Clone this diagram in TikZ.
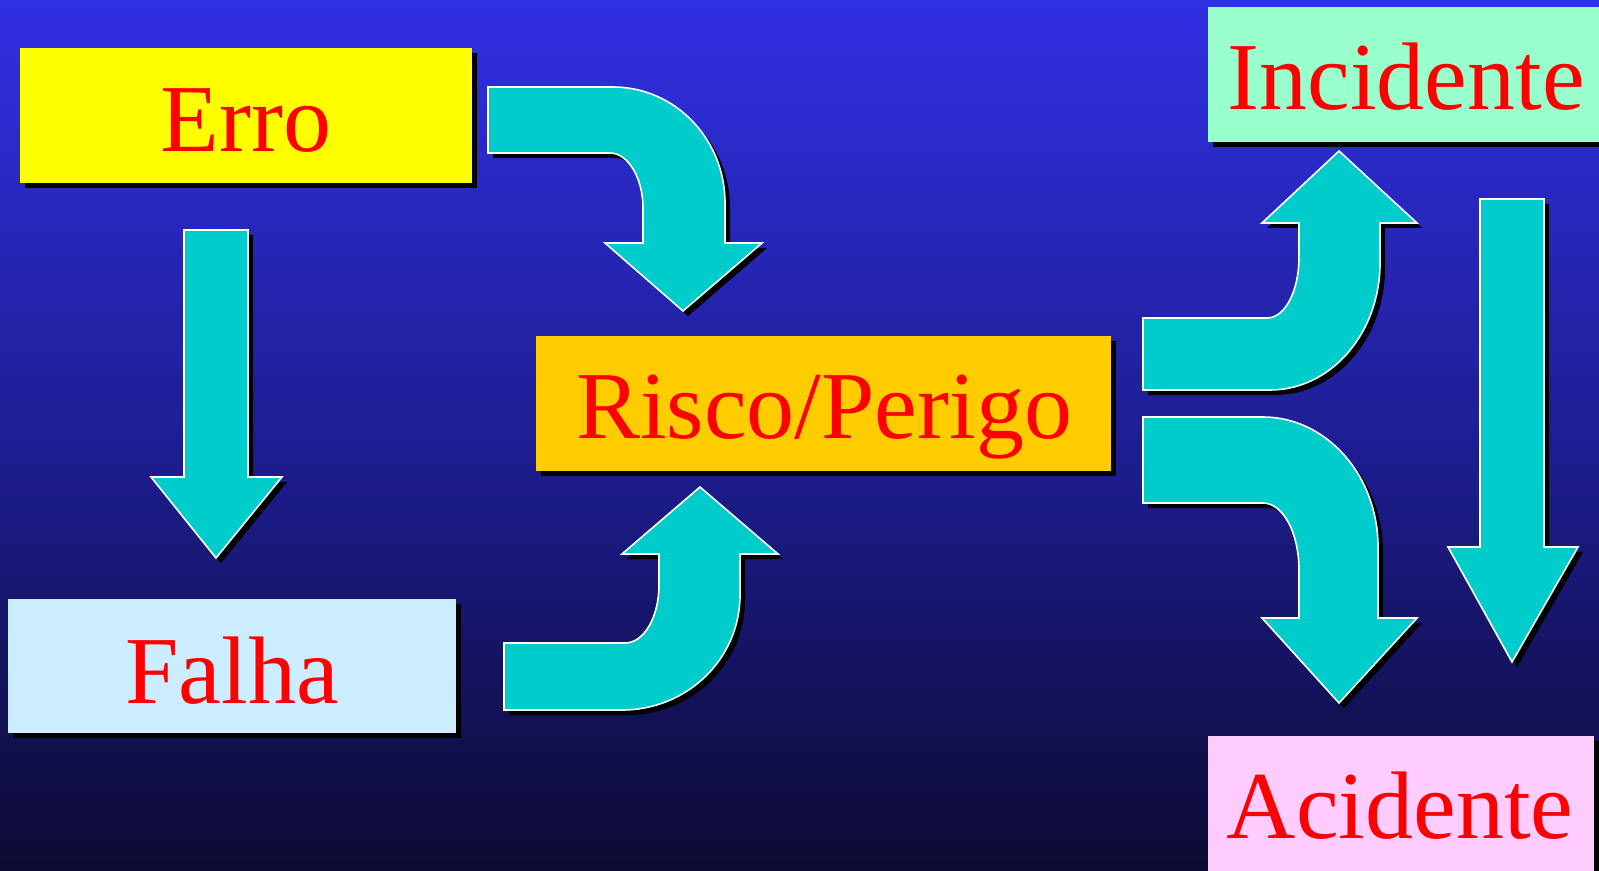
\documentclass[tikz,border=0pt]{standalone}
\usepackage{fontspec}
\setmainfont{Liberation Serif}
\usetikzlibrary{shadows}
\definecolor{bgtop}{RGB}{48,48,228}
\definecolor{bgmid}{RGB}{30,30,148}
\definecolor{bgbot}{RGB}{12,10,50}
\definecolor{erroC}{RGB}{255,255,0}
\definecolor{falhaC}{RGB}{204,236,255}
\definecolor{riscoC}{RGB}{255,204,0}
\definecolor{incC}{RGB}{153,255,204}
\definecolor{aciC}{RGB}{255,204,255}
\definecolor{arrC}{RGB}{0,204,204}
\definecolor{txtC}{RGB}{255,0,0}
\tikzset{
  box/.style={draw=none, inner sep=0pt, outer sep=0pt,
    drop shadow={shadow xshift=2.5pt, shadow yshift=-2.5pt, opacity=1, fill=black}},
  lbl/.style={anchor=base, inner sep=0pt, text=txtC, font=\fontsize{48}{58}\selectfont},
  arrowst/.style={fill=arrC, draw=white, line width=0.8pt, line join=miter},
  arrshadow/.style={fill=black, shift={(5,5)}}
}
\newcommand{\blockarr}[1]{\fill[arrshadow] #1; \filldraw[arrowst] #1;}
\begin{document}
\begin{tikzpicture}[x=0.5pt,y=-0.5pt]
\useasboundingbox (0,0) rectangle (1599,871);
\clip (0,0) rectangle (1599,871);
\shade[top color=bgtop, bottom color=bgbot, middle color=bgmid] (0,0) rectangle (1599,871);

% boxes
\node[box, fill=erroC, minimum width=226pt, minimum height=67.5pt] (erro) at (246,115.5) {};
\node[lbl] (erroT) at (246,152) {Erro};
\node[box, fill=falhaC, minimum width=224pt, minimum height=67pt] (falha) at (232,666) {};
\node[lbl] (falhaT) at (232,703) {Falha};
\node[box, fill=riscoC, minimum width=287.5pt, minimum height=67.5pt] (risco) at (823.5,403.5) {};
\node[lbl] (riscoT) at (824,438) {Risco/Perigo};
\node[box, fill=incC, minimum width=206pt, minimum height=67.5pt] (inc) at (1414,74.5) {};
\node[lbl] (incT) at (1406,110) {Incidente};
\node[box, fill=aciC, minimum width=193pt, minimum height=82pt] (aci) at (1401,818) {};
\node[lbl] (aciT) at (1400,838) {Acidente};

% Erro -> Risco
\blockarr{(488,87) -- (613,87) .. controls (675,87) and (725,139) .. (725,203) -- (725,243) -- (762,243) -- (683,311) -- (605,243) -- (643,243) -- (643,208) .. controls (643,178) and (628,153) .. (610,153) -- (488,153) -- cycle}
% Falha -> Risco
\blockarr{(504,643) -- (625,643) .. controls (644,643) and (659,617) .. (659,585) -- (659,554) -- (622,554) -- (700,487) -- (778,554) -- (740,554) -- (740,595) .. controls (740,659) and (687,710) .. (622,710) -- (504,710) -- cycle}
% Erro -> Falha
\blockarr{(184,230) -- (248,230) -- (248,477) -- (282,477) -- (216,558) -- (151,477) -- (184,477) -- cycle}
% Risco -> Incidente
\blockarr{(1143,318) -- (1267,318) .. controls (1285,318) and (1299,291) .. (1299,257) -- (1299,223) -- (1262,223) -- (1339,151) -- (1417,223) -- (1380,223) -- (1380,263) .. controls (1380,333) and (1331,390) .. (1270,390) -- (1143,390) -- cycle}
% Risco -> Acidente
\blockarr{(1143,417) -- (1263,417) .. controls (1326,417) and (1378,475) .. (1378,547) -- (1378,618) -- (1417,618) -- (1339,703) -- (1262,618) -- (1299,618) -- (1299,570) .. controls (1299,533) and (1283,503) .. (1263,503) -- (1143,503) -- cycle}
% Incidente -> Acidente
\blockarr{(1480,199) -- (1544,199) -- (1544,547) -- (1578,547) -- (1512,662) -- (1448,547) -- (1480,547) -- cycle}
\end{tikzpicture}
\end{document}
